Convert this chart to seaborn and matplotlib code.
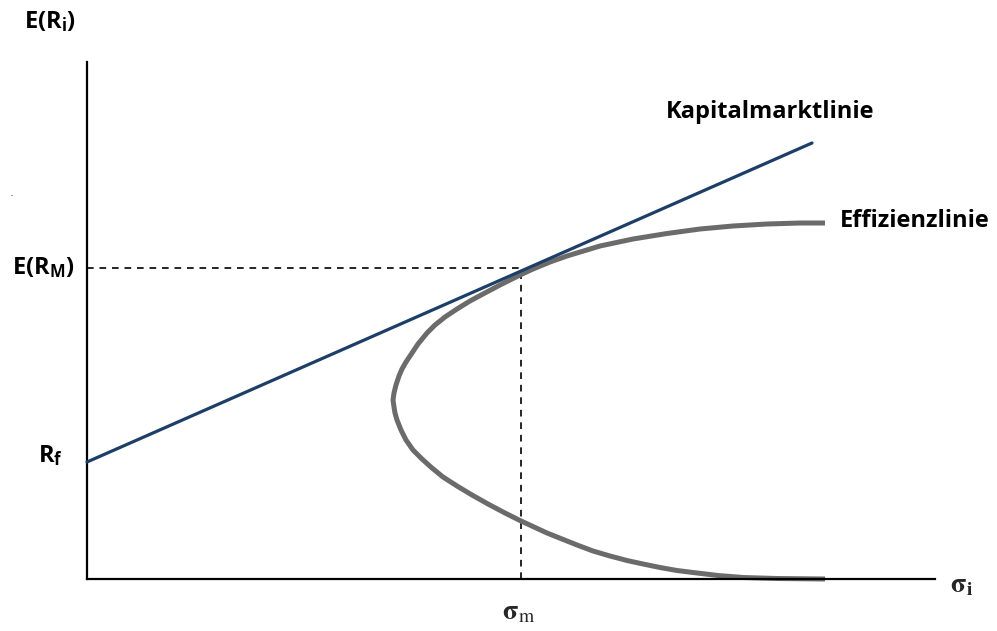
import matplotlib
matplotlib.use('Agg')
import matplotlib.pyplot as plt
import seaborn as sns
import pandas as pd

# values (units: risk sigma, expected return)
rf = 117
sigma_m = 434
er_m = 311
cml_sigma = [0, 725]
cml_ret = [117, 436]
frontier_sigma = [738, 713, 680, 646, 613, 580, 546, 513, 480, 463, 446, 433, 413, 396, 383,
                  370, 358, 348, 340, 331, 325, 319, 315, 312, 309, 307, 306,
                  307, 308, 310, 314, 319, 326, 335, 345, 356, 370, 385, 401, 418, 433,
                  460, 490, 506, 523, 540, 556, 573, 590, 606, 631, 656, 690, 738]
frontier_ret = [356, 356, 355, 353, 350, 345.5, 340, 333, 323, 317, 310, 304, 294, 285, 278,
                270, 262, 254, 246, 235, 226, 217, 210, 203, 194, 186, 179,
                172, 166, 159, 149, 139, 129, 120, 111, 102, 93, 84, 75, 66, 58.5,
                46, 34, 28, 23, 18.5, 15, 11.5, 8.5, 6.5, 3.5, 1.5, 0.5, 0]

sns.set_style('white')
plt.rcParams['font.family'] = ['Open Sans', 'DejaVu Sans']
plt.rcParams['mathtext.fontset'] = 'custom'
plt.rcParams['mathtext.rm'] = 'Open Sans'
plt.rcParams['mathtext.bf'] = 'Open Sans:bold'
plt.rcParams['mathtext.it'] = 'Open Sans:italic'

fig = plt.figure(figsize=(9.97, 6.31), dpi=100)
ax = fig.add_axes([87 / 997, 52 / 631, 848 / 997, 517 / 631])

frontier = pd.DataFrame({'sigma': frontier_sigma, 'ret': frontier_ret})
cml = pd.DataFrame({'sigma': cml_sigma, 'ret': cml_ret})

sns.lineplot(data=frontier, x='sigma', y='ret', sort=False, estimator=None,
             color='#6b6b6b', linewidth=3.6, ax=ax, clip_on=False, zorder=2,
             solid_joinstyle='round', solid_capstyle='butt')
sns.lineplot(data=cml, x='sigma', y='ret', sort=False, estimator=None,
             color='#1d3e66', linewidth=2.3, ax=ax, clip_on=False, zorder=3)

# guide lines to the market portfolio
ax.plot([0, sigma_m], [er_m, er_m], color='black', linestyle=(0, (4, 3.5)), linewidth=1.2, zorder=1)
ax.plot([sigma_m, sigma_m], [0, er_m], color='black', linestyle=(0, (4, 3.5)), linewidth=1.2, zorder=1)

ax.set_xlim(0, 848)
ax.set_ylim(0, 517)
ax.set_xticks([])
ax.set_yticks([])
ax.set_xlabel('')
ax.set_ylabel('')
for s in ['top', 'right']:
    ax.spines[s].set_visible(False)
for s in ['left', 'bottom']:
    ax.spines[s].set_color('black')
    ax.spines[s].set_linewidth(1.6)

lbl = dict(fontsize=17, fontweight='bold', color='black', ha='center', va='center')
fig.text(50 / 997, 1 - 22 / 631, r'$\mathbf{E(R}_{\mathbf{i}}\mathbf{)}$', **lbl)
fig.text(43 / 997, 1 - 268 / 631, r'$\mathbf{E(R}_{\mathbf{M}}\mathbf{)}$', **lbl)
fig.text(51 / 997, 1 - 456 / 631, r'$\mathbf{R}_{\mathbf{f}}$', **lbl)
fig.text(770 / 997, 1 - 112 / 631, 'Kapitalmarktlinie', **lbl)
fig.text(915 / 997, 1 - 221 / 631, 'Effizienzlinie', **lbl)
fig.text(519 / 997, 1 - 612 / 631, r'$\mathbf{\sigma}_{\mathrm{m}}$', math_fontfamily='stix',
         fontsize=20, ha='center', va='center')
fig.text(962 / 997, 1 - 585 / 631, r'$\mathbf{\sigma}_{\mathbf{i}}$', math_fontfamily='stix',
         fontsize=20, ha='center', va='center')
fig.text(12 / 997, 1 - 196 / 631, '-', fontsize=5, ha='center', va='center')

plt.savefig('out.png', dpi=100)
